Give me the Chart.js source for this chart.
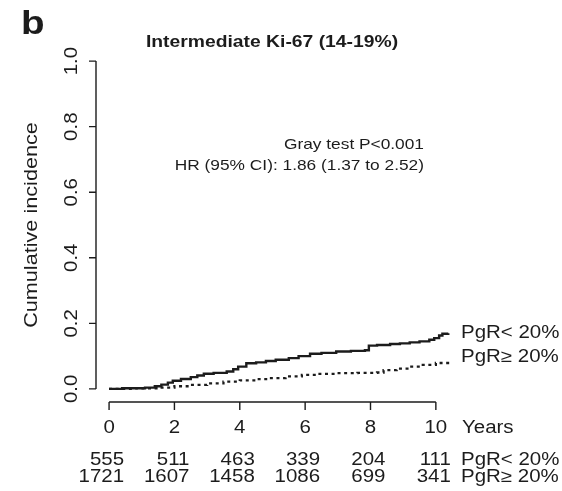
<!DOCTYPE html>
<html>
<head>
<meta charset="utf-8">
<script src="https://cdn.jsdelivr.net/npm/chart.js@4"></script>
<style>
  body { margin: 0; background: #fff; }
  canvas { display: block; }
</style>
</head>
<body>
<canvas id="cif" width="562" height="491"></canvas>
<script>
// Cumulative incidence (years, incidence)
const yearsLow = [0, 0.4, 1.1, 1.4, 1.6, 1.8, 1.95, 2.2, 2.5, 2.7, 2.9, 3.2, 3.6, 3.8, 3.95, 4.2, 4.5, 4.8, 5.1, 5.5, 5.8, 6.15, 6.5, 6.95, 7.4, 7.83, 7.95, 8.2, 8.6, 8.9, 9.2, 9.5, 9.8, 9.95, 10.1, 10.2, 10.38];
const incLow = [0, 0.002, 0.004, 0.008, 0.013, 0.019, 0.025, 0.030, 0.036, 0.041, 0.046, 0.049, 0.053, 0.060, 0.068, 0.078, 0.081, 0.085, 0.089, 0.094, 0.100, 0.107, 0.110, 0.114, 0.116, 0.118, 0.132, 0.134, 0.137, 0.139, 0.142, 0.145, 0.150, 0.155, 0.163, 0.168, 0.170];
const yearsHigh = [0, 0.8, 1.5, 2.0, 2.5, 3.0, 3.5, 4.0, 4.5, 4.9, 5.4, 5.9, 6.4, 6.95, 7.6, 8.2, 8.4, 8.8, 9.2, 9.6, 10.0, 10.43];
const incHigh = [0, 0.002, 0.004, 0.008, 0.012, 0.017, 0.022, 0.026, 0.030, 0.033, 0.038, 0.043, 0.046, 0.048, 0.049, 0.050, 0.057, 0.062, 0.068, 0.073, 0.079, 0.082];

const xTicks = [0, 2, 4, 6, 8, 10];
const yTicks = [0, 0.2, 0.4, 0.6, 0.8, 1.0];
const yTickLabels = ["0.0", "0.2", "0.4", "0.6", "0.8", "1.0"];
const groupLabels = ["PgR< 20%", "PgR\u2265 20%"];
const atRiskLow = [555, 511, 463, 339, 204, 111];
const atRiskHigh = [1721, 1607, 1458, 1086, 699, 341];

const INK = "#1c1c1c";
const FONT = "'Liberation Sans', Arial, sans-serif";
const STRETCH = 1.17; // the original glyphs are wider than Arial

function txt(ctx, s, x, y, opts) {
  const o = Object.assign({ size: 17.5, weight: "normal", align: "center", rot: 0 }, opts);
  ctx.save();
  ctx.translate(x, y);
  ctx.rotate(o.rot);
  ctx.scale(STRETCH, 1);
  ctx.font = o.weight + " " + o.size + "px " + FONT;
  ctx.fillStyle = INK;
  ctx.textAlign = o.align;
  ctx.textBaseline = "middle";
  ctx.fillText(s, 0, 0);
  ctx.restore();
}

// R-style axes, annotations and number-at-risk table
const decorations = {
  id: "decorations",
  afterDraw(chart) {
    const ctx = chart.ctx;
    const xs = chart.scales.x, ys = chart.scales.y;
    const axisX = chart.chartArea.left;
    const axisY = chart.chartArea.bottom;

    ctx.save();
    ctx.strokeStyle = INK;
    ctx.lineWidth = 1.4;

    // y axis
    ctx.beginPath();
    ctx.moveTo(axisX, ys.getPixelForValue(0));
    ctx.lineTo(axisX, ys.getPixelForValue(1));
    yTicks.forEach(v => {
      const py = ys.getPixelForValue(v);
      ctx.moveTo(axisX, py);
      ctx.lineTo(axisX - 7, py);
    });
    ctx.stroke();
    yTicks.forEach((v, i) => {
      txt(ctx, yTickLabels[i], axisX - 24, ys.getPixelForValue(v), { rot: -Math.PI / 2 });
    });

    // x axis
    ctx.beginPath();
    ctx.moveTo(xs.getPixelForValue(0), axisY);
    ctx.lineTo(xs.getPixelForValue(10), axisY);
    xTicks.forEach(v => {
      const px = xs.getPixelForValue(v);
      ctx.moveTo(px, axisY);
      ctx.lineTo(px, axisY + 8);
    });
    ctx.stroke();
    ctx.restore();

    xTicks.forEach(v => txt(ctx, String(v), xs.getPixelForValue(v), 428));
    txt(ctx, "Years", 462, 428, { align: "left" });

    // axis title, panel letter and title
    txt(ctx, "Cumulative incidence", 32, (ys.getPixelForValue(0) + ys.getPixelForValue(1)) / 2,
        { size: 18.5, rot: -Math.PI / 2 });
    txt(ctx, "b", 21, 25, { size: 33, weight: "bold", align: "left" });
    txt(ctx, "Intermediate Ki-67 (14-19%)", 272, 42, { size: 16.5, weight: "bold" });

    // test annotation
    txt(ctx, "Gray test P<0.001", 424, 145, { size: 14.8, align: "right" });
    txt(ctx, "HR (95% CI): 1.86 (1.37 to 2.52)", 424, 166, { size: 14.8, align: "right" });

    // labels at curve ends
    txt(ctx, groupLabels[0], 461, 333, { align: "left" });
    txt(ctx, groupLabels[1], 461, 357, { align: "left" });

    // number at risk
    xTicks.forEach((v, i) => {
      const px = xs.getPixelForValue(v) + 15;
      txt(ctx, String(atRiskLow[i]), px, 460, { align: "right" });
      txt(ctx, String(atRiskHigh[i]), px, 477, { align: "right" });
    });
    txt(ctx, groupLabels[0], 461, 460, { align: "left" });
    txt(ctx, groupLabels[1], 461, 477, { align: "left" });
  }
};

function points(xv, yv) {
  return xv.map((x, i) => ({ x: x, y: yv[i] }));
}

new Chart(document.getElementById("cif"), {
  type: "line",
  data: {
    datasets: [
      {
        label: groupLabels[0],
        data: points(yearsLow, incLow),
        borderColor: INK,
        borderWidth: 2.4,
        pointRadius: 0,
        stepped: true,
        fill: false
      },
      {
        label: groupLabels[1],
        data: points(yearsHigh, incHigh),
        borderColor: INK,
        borderWidth: 2.3,
        borderDash: [3, 3.6],
        pointRadius: 0,
        stepped: true,
        fill: false
      }
    ]
  },
  options: {
    responsive: false,
    animation: false,
    layout: { padding: { left: 96, right: 100, top: 48, bottom: 89 } },
    plugins: { legend: { display: false }, title: { display: false }, tooltip: { enabled: false } },
    scales: {
      x: { type: "linear", min: -0.4, max: 10.8, display: false },
      y: { type: "linear", min: -0.04, max: 1.04, display: false }
    }
  },
  plugins: [decorations]
});
</script>
</body>
</html>
